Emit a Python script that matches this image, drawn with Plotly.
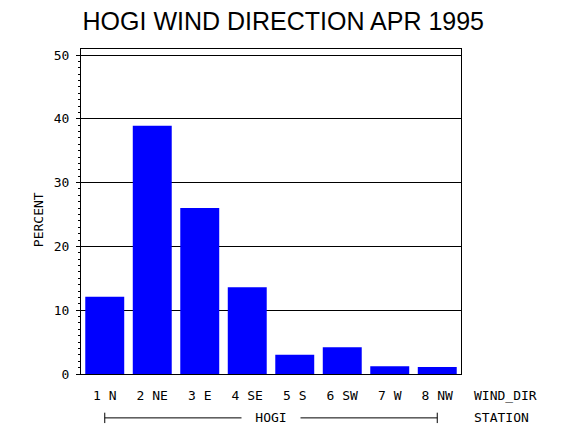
import plotly.graph_objects as go

# wind direction bins for station HOGI, April 1995
categories = ["1 N", "2 NE", "3 E", "4 SE", "5 S", "6 SW", "7 W", "8 NW"]
percent = [12.1, 38.9, 26.0, 13.6, 3.0, 4.2, 1.2, 1.1]
y_ticks = [0, 10, 20, 30, 40, 50]

station = "HOGI"
title = "HOGI WIND DIRECTION APR 1995"

mono = "DejaVu Sans Mono"
fs = 13

fig = go.Figure()

fig.add_bar(
    x=categories,
    y=percent,
    marker=dict(color="#0000FF", line=dict(width=0)),
    showlegend=False,
    hoverinfo="skip",
)

fig.update_layout(
    width=570,
    height=430,
    margin=dict(l=81, r=109, t=49, b=56),
    paper_bgcolor="white",
    plot_bgcolor="white",
    bargap=0.18,
    font=dict(family=mono, size=fs, color="black"),
    title=dict(
        text=title,
        font=dict(family="Liberation Sans", size=25, color="black"),
        x=0.497,
        xanchor="center",
        y=0.951,
        yanchor="middle",
    ),
)

fig.update_xaxes(
    type="category",
    showline=True,
    linecolor="black",
    linewidth=1,
    mirror=True,
    showgrid=False,
    ticks="outside",
    ticklen=9,
    tickcolor="rgba(0,0,0,0)",
    tickfont=dict(family=mono, size=fs),
)

fig.update_yaxes(
    range=[0, 50.94],
    tickvals=y_ticks,
    showline=True,
    linecolor="black",
    linewidth=1,
    mirror=True,
    showgrid=True,
    gridcolor="black",
    gridwidth=1,
    zeroline=False,
    ticks="outside",
    ticklen=4,
    tickcolor="black",
    ticklabelstandoff=4,
    minor=dict(dtick=1, ticks="outside", ticklen=2, tickcolor="black", showgrid=False),
    tickfont=dict(family=mono, size=fs),
)

# y title
fig.add_annotation(
    text="PERCENT", xref="paper", yref="paper", x=-0.11, y=0.474,
    xanchor="center", yanchor="middle",
    textangle=-90, showarrow=False, font=dict(family=mono, size=fs),
)

# row labels on the right
fig.add_annotation(
    text="WIND_DIR", xref="paper", yref="paper", x=1.029, y=-0.065,
    xanchor="left", yanchor="middle", showarrow=False, font=dict(family=mono, size=fs),
)
fig.add_annotation(
    text="STATION", xref="paper", yref="paper", x=1.029, y=-0.135,
    xanchor="left", yanchor="middle", showarrow=False, font=dict(family=mono, size=fs),
)

# station bracket under the categories
yb = -0.135
fig.add_shape(type="line", xref="x", yref="paper", x0=0, x1=len(categories) - 1,
              y0=yb, y1=yb, line=dict(color="black", width=1))
for xi in [0, len(categories) - 1]:
    fig.add_shape(type="line", xref="x", yref="paper", x0=xi, x1=xi,
                  y0=yb - 0.016, y1=yb + 0.016, line=dict(color="black", width=1))
fig.add_annotation(
    text=station, xref="x", yref="paper", x=(len(categories) - 1) / 2, y=yb,
    yanchor="middle", showarrow=False, bgcolor="white", width=56,
    font=dict(family=mono, size=fs),
)

# drop the default body margin so the 570x430 figure fills the window
fig.write_html(
    "out.html",
    config={"displayModeBar": False},
    post_script="document.body.style.margin='0';",
)
